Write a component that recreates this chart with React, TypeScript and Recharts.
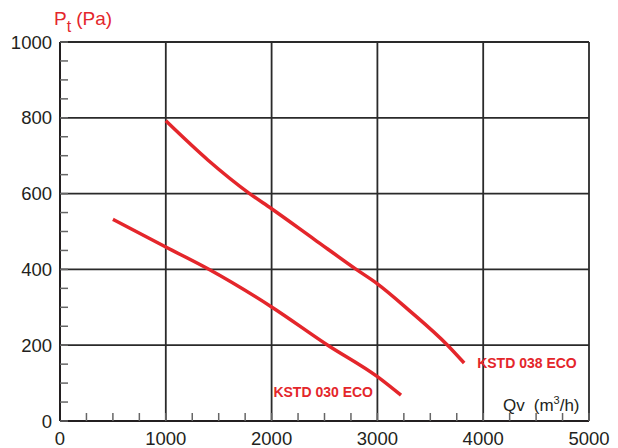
import React from 'react';
import { LineChart, Line, XAxis, YAxis, ReferenceLine } from 'recharts';

const xTicks = [0, 250, 500, 750, 1000, 1250, 1500, 1750, 2000, 2250, 2500, 2750, 3000, 3250, 3500, 3750, 4000, 4250, 4500, 4750, 5000];
const yTicks = [0, 50, 100, 150, 200, 250, 300, 350, 400, 450, 500, 550, 600, 650, 700, 750, 800, 850, 900, 950, 1000];
const gridX = [1000, 2000, 3000, 4000, 5000];
const gridY = [200, 400, 600, 800, 1000];

const kstd038 = [
  { q: 1000, p: 792 },
  { q: 1400, p: 688 },
  { q: 1792, p: 600 },
  { q: 2000, p: 560 },
  { q: 2400, p: 480 },
  { q: 2800, p: 400 },
  { q: 3000, p: 362 },
  { q: 3300, p: 292 },
  { q: 3663, p: 200 },
  { q: 3820, p: 153 },
];

const kstd030 = [
  { q: 500, p: 532 },
  { q: 1000, p: 459 },
  { q: 1415, p: 399 },
  { q: 2000, p: 301 },
  { q: 2531, p: 200 },
  { q: 3000, p: 117 },
  { q: 3223, p: 68 },
];

const RED = '#e4262b';
const INK = '#231f20';
const FONT = '"Liberation Sans", Arial, Helvetica, sans-serif';

const makeEndLabel = (name: string, count: number, side: 'right' | 'left') => (props: any) => {
  const { x, y, index } = props;
  if (index !== count - 1) return null;
  const tx = side === 'right' ? x + 13 : x - 28;
  const ty = side === 'right' ? y : y - 3;
  return (
    <text
      key={name}
      x={tx}
      y={ty}
      dy="0.36em"
      textAnchor={side === 'right' ? 'start' : 'end'}
      fontFamily={FONT}
      fontWeight="bold"
      fontSize={14}
      fill={RED}
    >
      {name}
    </text>
  );
};

export default function App() {
  return (
    <div style={{ position: 'absolute', left: 0, top: 0, width: 618, height: 448, background: '#fff' }}>
      <LineChart width={618} height={448} margin={{ top: 42, right: 29, left: 0, bottom: 0 }}>
        <XAxis
          type="number"
          dataKey="q"
          domain={[0, 5000]}
          ticks={xTicks}
          interval={0}
          height={27}
          tickSize={-8}
          tickMargin={19}
          tickLine={{ stroke: '#666', strokeWidth: 1.5 }}
          axisLine={{ stroke: INK, strokeWidth: 2 }}
          tick={{ fill: INK, fontSize: 18.5, fontFamily: FONT }}
          tickFormatter={(v: number) => (v % 1000 === 0 ? String(v) : '')}
        />
        <YAxis
          type="number"
          dataKey="p"
          domain={[0, 1000]}
          ticks={yTicks}
          interval={0}
          width={60}
          tickSize={-8}
          tickMargin={16}
          tickLine={{ stroke: '#666', strokeWidth: 1.5 }}
          axisLine={{ stroke: INK, strokeWidth: 2 }}
          tick={{ fill: INK, fontSize: 18.5, fontFamily: FONT }}
          tickFormatter={(v: number) => (v % 200 === 0 ? String(v) : '')}
        />
        {gridX.map((v) => (
          <ReferenceLine key={'gx' + v} x={v} stroke="#2a2a2a" strokeWidth={1.8} />
        ))}
        {gridY.map((v) => (
          <ReferenceLine key={'gy' + v} y={v} stroke="#2a2a2a" strokeWidth={1.8} />
        ))}
        <Line
          data={kstd038}
          dataKey="p"
          type="monotone"
          stroke={RED}
          strokeWidth={3.5}
          dot={false}
          isAnimationActive={false}
          label={makeEndLabel('KSTD 038 ECO', kstd038.length, 'right')}
        />
        <Line
          data={kstd030}
          dataKey="p"
          type="monotone"
          stroke={RED}
          strokeWidth={3.5}
          dot={false}
          isAnimationActive={false}
          label={makeEndLabel('KSTD 030 ECO', kstd030.length, 'left')}
        />
      </LineChart>
      <svg width={618} height={448} style={{ position: 'absolute', left: 0, top: 0, pointerEvents: 'none' }}>
        <text x={54} y={25} fontFamily={FONT} fontSize={19} fill={RED}>
          P<tspan dy={7} fontSize={16}>t</tspan>
          <tspan dy={-7} dx={5}>(Pa)</tspan>
        </text>
        <text x={503} y={411} fontFamily={FONT} fontSize={17} fill={INK}>
          Qv<tspan dx={9}>(m</tspan>
          <tspan dy={-7} fontSize={11}>3</tspan>
          <tspan dy={7}>/h)</tspan>
        </text>
      </svg>
    </div>
  );
}
